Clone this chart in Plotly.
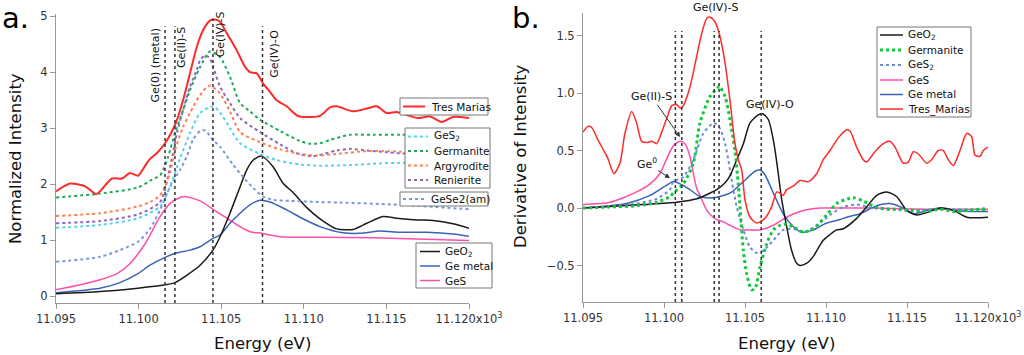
import plotly.graph_objects as go

# ---------------- Panel a data (energy in eV, normalized intensity) ----------------
E0 = 11095.0
tres_a_off = [0, 0.85, 1.76, 2.42, 2.66, 3.39, 4.0, 4.48, 4.96, 5.27, 5.69, 6.10, 6.60, 7.00, 7.31, 7.69, 8.11, 8.52, 8.90, 9.32, 9.62, 9.93, 10.23, 10.53, 10.94, 11.44, 11.74, 12.15, 12.53, 12.95, 13.36, 13.96, 14.57, 14.95, 15.98, 16.59, 16.99, 17.98, 18.81, 19.42, 20.02, 20.62, 21.3, 21.91, 22.64, 23.35, 24.03, 25.0]
tres_a = [1.87, 2.01, 1.96, 1.82, 1.87, 2.10, 2.10, 2.20, 2.15, 2.27, 2.45, 2.55, 2.73, 2.93, 3.14, 3.50, 3.98, 4.45, 4.75, 4.92, 4.94, 4.90, 4.75, 4.60, 4.39, 4.10, 4.00, 3.98, 3.80, 3.65, 3.50, 3.39, 3.23, 3.20, 3.22, 3.37, 3.39, 3.30, 3.35, 3.39, 3.27, 3.29, 3.23, 3.18, 3.21, 3.11, 3.20, 3.18]

germ_a_off = [0, 2.66, 4.96, 5.69, 6.30, 6.48, 6.78, 7.20, 7.69, 8.11, 8.72, 9.32, 9.93, 10.53, 11.14, 11.74, 12.35, 13.56, 14.77, 15.38, 15.98, 16.59, 17.80, 19.19, 20.82, 22.5, 25.0]
germ_a = [1.76, 1.83, 1.94, 2.06, 2.16, 2.25, 2.48, 2.91, 3.32, 3.68, 4.09, 4.37, 4.27, 3.92, 3.45, 3.30, 3.15, 2.95, 2.77, 2.72, 2.73, 2.79, 2.88, 2.88, 2.88, 2.88, 2.88]

argy_off = [0, 2.66, 4.96, 5.69, 6.30, 6.9, 7.20, 7.69, 8.11, 8.72, 9.3, 9.93, 10.53, 11.14, 12.35, 13.56, 14.77, 15.78, 16.99, 18.81, 19.79, 20.82, 25.0]
argy = [1.43, 1.48, 1.60, 1.68, 1.80, 2.2, 2.6, 3.02, 3.27, 3.59, 3.76, 3.62, 3.30, 2.93, 2.75, 2.62, 2.54, 2.51, 2.54, 2.59, 2.59, 2.58, 2.58]

renie_off = [0, 2.66, 4.96, 6.30, 6.9, 7.31, 7.69, 8.11, 8.52, 8.72, 9.02, 9.3, 9.93, 10.53, 11.14, 12.35, 13.56, 14.57, 15.56, 16.99, 17.80, 18.81, 20.02, 20.82, 25.0]
renie = [1.30, 1.34, 1.46, 1.68, 2.3, 2.90, 3.32, 3.74, 4.04, 4.21, 4.30, 4.25, 3.74, 3.45, 3.18, 2.93, 2.71, 2.55, 2.50, 2.60, 2.63, 2.60, 2.57, 2.55, 2.55]

ges2_a_off = [0, 2.66, 4.96, 6.30, 6.9, 7.5, 8.11, 8.72, 9.5, 9.93, 10.53, 11.14, 12.35, 13.36, 14.77, 15.98, 17.80, 19.61, 20.82, 25.0]
ges2_a = [1.22, 1.27, 1.39, 1.60, 1.95, 2.45, 2.91, 3.27, 3.39, 3.28, 3.00, 2.73, 2.54, 2.43, 2.35, 2.33, 2.34, 2.37, 2.38, 2.38]

gese2_off = [0, 2.66, 3.87, 4.96, 5.69, 6.30, 6.90, 7.5, 7.91, 8.29, 8.72, 9.02, 9.50, 9.93, 10.71, 11.32, 11.94, 12.53, 13.14, 14.16, 15.98, 17.19, 20.82, 25.0]
gese2 = [0.61, 0.70, 0.82, 0.97, 1.20, 1.54, 1.95, 2.25, 2.49, 2.79, 2.95, 2.96, 2.79, 2.67, 2.35, 2.13, 1.93, 1.78, 1.72, 1.70, 1.68, 1.67, 1.63, 1.55]

geo2_a_off = [0, 2.66, 4.96, 6.60, 7.20, 7.91, 8.72, 9.50, 9.93, 10.53, 11.14, 11.54, 11.94, 12.45, 13.14, 13.76, 14.35, 15.18, 15.98, 16.99, 17.98, 18.81, 19.79, 20.62, 21.83, 22.82, 24.03, 25.0]
geo2_a = [0.04, 0.08, 0.14, 0.20, 0.24, 0.37, 0.55, 0.82, 1.06, 1.48, 1.95, 2.25, 2.43, 2.50, 2.31, 2.01, 1.85, 1.58, 1.38, 1.20, 1.19, 1.30, 1.42, 1.39, 1.36, 1.35, 1.29, 1.21]

gem_a_off = [0, 2.66, 3.87, 4.96, 5.69, 6.60, 7.20, 8.11, 8.72, 9.50, 9.93, 10.53, 11.14, 11.74, 12.35, 12.95, 13.96, 14.95, 15.98, 17.37, 18.40, 19.61, 20.82, 22.44, 24.03, 25.0]
gem_a = [0.06, 0.14, 0.24, 0.40, 0.55, 0.69, 0.76, 0.82, 0.88, 1.03, 1.09, 1.30, 1.48, 1.63, 1.71, 1.68, 1.54, 1.38, 1.24, 1.13, 1.12, 1.16, 1.14, 1.14, 1.11, 1.07]

ges_a_off = [0, 1.45, 2.66, 3.69, 4.48, 5.27, 5.69, 6.30, 6.90, 7.51, 7.81, 8.72, 9.50, 10.35, 11.14, 11.74, 12.45, 13.56, 15.98, 19.19, 25.0]
ges_a = [0.11, 0.20, 0.29, 0.40, 0.58, 0.88, 1.09, 1.42, 1.65, 1.76, 1.78, 1.70, 1.55, 1.39, 1.24, 1.15, 1.12, 1.06, 1.05, 1.04, 0.99]

# reference energies (eV) for dotted markers
ref_a = [11101.6, 11102.2, 11104.5, 11107.5]
ref_a_labels = ["Ge(0) (metal)", "Ge(II)-S", "Ge(IV)-S", "Ge(IV)-O"]
ref_a_label_x = [11101.0, 11102.6, 11104.93, 11108.26]
ref_a_label_y = [4.12, 4.44, 4.68, 4.33]

# ---------------- Panel b data (derivative) ----------------
tres_b_off = [0, 0.31, 0.54, 0.93, 1.36, 1.54, 1.91, 2.28, 2.59, 3.01, 3.31, 3.62, 3.93, 4.24, 4.55, 4.86, 5.17, 5.48, 5.78, 5.99, 6.19, 6.60, 7.02, 7.33, 7.64, 7.84, 8.15, 8.46, 8.77, 9.07, 9.38, 9.59, 9.80, 10.0, 10.31, 10.72, 11.23, 11.64, 11.96, 12.16, 12.36, 12.57, 12.98, 13.40, 13.91, 14.43, 14.83, 15.25, 15.76, 16.28, 16.48, 16.89, 17.30, 17.51, 18.02, 18.54, 18.95, 19.26, 19.77, 20.08, 20.39, 20.70, 21.22, 21.52, 21.93, 22.24, 22.55, 22.86, 23.27, 23.69, 23.99, 24.20, 24.51, 24.71, 25.0]
tres_b = [0.66, 0.71, 0.70, 0.59, 0.48, 0.43, 0.30, 0.39, 0.65, 0.84, 0.74, 0.58, 0.57, 0.58, 0.56, 0.66, 0.78, 0.89, 0.90, 0.87, 0.89, 1.05, 1.32, 1.52, 1.65, 1.66, 1.62, 1.49, 1.26, 0.94, 0.56, 0.42, 0.33, 0.07, -0.08, -0.13, -0.09, 0.01, 0.14, 0.13, 0.11, 0.16, 0.19, 0.24, 0.23, 0.30, 0.42, 0.50, 0.61, 0.68, 0.67, 0.53, 0.42, 0.40, 0.49, 0.56, 0.58, 0.53, 0.39, 0.40, 0.49, 0.47, 0.39, 0.42, 0.50, 0.50, 0.42, 0.37, 0.50, 0.65, 0.62, 0.46, 0.45, 0.50, 0.53]

germ_b_off = [0, 1.67, 3.31, 4.55, 5.37, 5.57, 6.19, 6.81, 7.22, 7.84, 8.35, 8.41, 8.77, 9.07, 9.38, 9.59, 9.90, 10.10, 10.41, 10.62, 10.93, 11.34, 11.75, 12.16, 12.57, 13.19, 13.60, 14.22, 15.04, 15.66, 16.69, 17.30, 18.02, 18.75, 19.57, 20.39, 21.22, 22.04, 22.86, 23.89, 25.0]
germ_b = [0.00, 0.01, 0.02, 0.05, 0.10, 0.13, 0.21, 0.39, 0.74, 0.97, 1.05, 1.06, 0.97, 0.77, 0.50, 0.20, -0.37, -0.57, -0.71, -0.70, -0.51, -0.31, -0.19, -0.15, -0.14, -0.18, -0.21, -0.18, -0.06, 0.04, 0.09, 0.06, 0.01, -0.01, -0.01, -0.02, -0.03, -0.01, -0.03, -0.02, -0.01]

ges2_b_off = [0, 2.90, 4.55, 5.37, 5.57, 6.19, 6.81, 7.02, 7.43, 8.09, 8.46, 8.77, 8.97, 9.07, 9.49, 9.90, 10.31, 10.72, 11.13, 11.75, 12.36, 12.98, 13.60, 14.43, 15.25, 16.07, 16.89, 17.92, 19.15, 20.39, 21.62, 22.86, 24.09, 25.0]
ges2_b = [0.00, 0.03, 0.08, 0.16, 0.23, 0.27, 0.42, 0.50, 0.65, 0.74, 0.69, 0.56, 0.42, 0.33, 0.01, -0.19, -0.34, -0.39, -0.37, -0.28, -0.19, -0.18, -0.21, -0.15, -0.06, 0.01, 0.03, 0.00, -0.01, -0.03, -0.01, -0.01, -0.01, 0.00]

ges_b_off = [0, 1.67, 3.31, 4.14, 4.75, 5.17, 5.57, 5.99, 6.30, 6.60, 6.81, 7.02, 7.22, 7.64, 8.04, 8.25, 8.66, 9.07, 9.69, 10.31, 10.93, 11.75, 12.57, 13.40, 14.63, 15.86, 18.0, 21.0, 25.0]
ges_b = [0.03, 0.05, 0.14, 0.21, 0.30, 0.43, 0.54, 0.58, 0.56, 0.45, 0.30, 0.17, 0.11, -0.02, -0.08, -0.10, -0.12, -0.15, -0.19, -0.19, -0.19, -0.15, -0.08, -0.03, 0.00, 0.00, 0.00, -0.01, -0.01]

gem_b_off = [0, 2.70, 4.14, 5.17, 5.57, 5.99, 6.60, 7.22, 8.04, 9.07, 9.90, 10.62, 10.93, 11.23, 11.75, 12.36, 12.98, 13.50, 14.22, 15.04, 15.86, 16.28, 17.10, 18.13, 18.95, 19.77, 20.39, 21.22, 22.04, 22.86, 23.89, 25.0]
gem_b = [0.00, 0.04, 0.11, 0.20, 0.23, 0.21, 0.16, 0.10, 0.09, 0.13, 0.23, 0.32, 0.33, 0.29, 0.13, -0.05, -0.16, -0.21, -0.19, -0.13, -0.10, -0.08, -0.05, 0.02, 0.04, 0.00, -0.05, -0.02, 0.00, -0.02, -0.03, -0.03]

geo2_b_off = [0, 3.72, 5.78, 7.02, 8.25, 8.77, 9.07, 9.49, 9.90, 10.31, 10.82, 11.09, 11.44, 11.75, 11.96, 12.27, 12.57, 12.88, 13.19, 13.40, 13.81, 14.22, 14.43, 14.83, 15.25, 15.66, 16.07, 16.89, 17.51, 18.13, 18.75, 19.36, 19.98, 20.60, 21.22, 22.04, 22.86, 23.69, 25.0]
geo2_b = [0.00, 0.03, 0.05, 0.08, 0.16, 0.22, 0.28, 0.42, 0.56, 0.74, 0.81, 0.82, 0.77, 0.59, 0.40, 0.07, -0.16, -0.37, -0.48, -0.50, -0.48, -0.42, -0.37, -0.28, -0.23, -0.19, -0.18, -0.09, 0.01, 0.11, 0.14, 0.10, -0.02, -0.06, -0.04, 0.00, -0.02, -0.08, -0.08]

ref_b = [11100.7, 11101.1, 11103.1, 11103.4, 11106.0]

tickvals = [11095, 11100, 11105, 11110, 11115, 11120]
ticktext = ["11.095", "11.100", "11.105", "11.110", "11.115", "11.120x10<sup>3</sup>"]

# legend groups (names in display order)
legend_a1 = ["Tres Marias"]
legend_a2 = ["GeS<sub>2</sub> ", "Germanite ", "Argyrodite", "Renierite"]
legend_a3 = ["GeSe2(am)"]
legend_a4 = ["GeO<sub>2</sub> ", "Ge metal ", "GeS "]
legend_b = ["GeO<sub>2</sub>", "Germanite", "GeS<sub>2</sub>", "GeS", "Ge metal", "Tres_Marias"]

FONT = "DejaVu Sans"
RED = "#ff2b2b"

# styles keyed by series name: (color, width, dash)
style = {
    "Tres Marias": (RED, 2, "solid"),
    "GeS<sub>2</sub> ": ("#55d2ea", 2, "dot"),
    "Germanite ": ("#1fa85a", 2, "dot"),
    "Argyrodite": ("#ff7f50", 2, "dot"),
    "Renierite": ("#8e63c4", 2, "dot"),
    "GeSe2(am)": ("#7b98da", 2, "dot"),
    "GeO<sub>2</sub> ": ("#1a1a1a", 1.5, "solid"),
    "Ge metal ": ("#3a62b8", 1.5, "solid"),
    "GeS ": ("#ff4fa8", 1.5, "solid"),
    "GeO<sub>2</sub>": ("#1a1a1a", 1.5, "solid"),
    "Germanite": ("#10c83c", 3, "dot"),
    "GeS<sub>2</sub>": ("#6a8ed6", 2, "dot"),
    "GeS": ("#ff4fa8", 1.5, "solid"),
    "Ge metal": ("#3a62b8", 1.5, "solid"),
    "Tres_Marias": (RED, 1.5, "solid"),
}


def ev(offs):
    return [E0 + o for o in offs]


fig = go.Figure()


def add(xo, y, name, xa, ya):
    c, w, d = style[name]
    fig.add_trace(go.Scatter(
        x=ev(xo), y=y, name=name, mode="lines", showlegend=False,
        line=dict(color=c, width=w, dash=d, shape="spline", smoothing=0.7),
        xaxis=xa, yaxis=ya))


# Panel a
add(ges_a_off, ges_a, "GeS ", "x", "y")
add(gem_a_off, gem_a, "Ge metal ", "x", "y")
add(geo2_a_off, geo2_a, "GeO<sub>2</sub> ", "x", "y")
add(gese2_off, gese2, "GeSe2(am)", "x", "y")
add(renie_off, renie, "Renierite", "x", "y")
add(argy_off, argy, "Argyrodite", "x", "y")
add(germ_a_off, germ_a, "Germanite ", "x", "y")
add(ges2_a_off, ges2_a, "GeS<sub>2</sub> ", "x", "y")
add(tres_a_off, tres_a, "Tres Marias", "x", "y")

# Panel b
add(ges_b_off, ges_b, "GeS", "x2", "y2")
add(gem_b_off, gem_b, "Ge metal", "x2", "y2")
add(ges2_b_off, ges2_b, "GeS<sub>2</sub>", "x2", "y2")
add(geo2_b_off, geo2_b, "GeO<sub>2</sub>", "x2", "y2")
add(germ_b_off, germ_b, "Germanite", "x2", "y2")
add(tres_b_off, tres_b, "Tres_Marias", "x2", "y2")

W, H = 1024.0, 355.0
shapes = []
tops_a = [4.82, 4.82, 4.96, 4.82]
for xv, t in zip(ref_a, tops_a):
    shapes.append(dict(type="line", xref="x", yref="y", x0=xv, x1=xv, y0=-0.125, y1=t,
                       line=dict(color="#333", width=1.5, dash="dot")))
for xv in ref_b:
    shapes.append(dict(type="line", xref="x2", yref="y2", x0=xv, x1=xv, y0=-0.817, y1=1.54,
                       line=dict(color="#333", width=1.5, dash="dot")))

TXT = dict(family=FONT, color="#111")
annotations = []
for txt, xv, yv in zip(ref_a_labels, ref_a_label_x, ref_a_label_y):
    annotations.append(dict(text=txt, x=xv, y=yv, xref="x", yref="y", showarrow=False,
                            textangle=-90, font=dict(size=11, **TXT),
                            xanchor="center", yanchor="middle"))
annotations += [
    dict(text="Ge(IV)-S", x=11103.24, y=1 - 8 / H, xref="x2", yref="paper", showarrow=False,
         xanchor="center", yanchor="middle", font=dict(size=11, **TXT)),
    dict(text="Ge(IV)-O", x=11106.54, y=0.896, xref="x2", yref="y2", showarrow=False,
         xanchor="center", yanchor="middle", font=dict(size=11, **TXT)),
    dict(text="Ge(II)-S", x=11100.99, y=0.617, ax=11099.24, ay=0.968, xref="x2", yref="y2",
         axref="x2", ayref="y2", showarrow=True, arrowhead=2, arrowsize=1, arrowwidth=1,
         arrowcolor="#333", font=dict(size=11, **TXT)),
    dict(text="Ge<sup>0</sup>", x=11100.37, y=0.26, ax=11098.93, ay=0.39, xref="x2", yref="y2",
         axref="x2", ayref="y2", showarrow=True, arrowhead=2, arrowsize=1, arrowwidth=1,
         arrowcolor="#333", font=dict(size=11, **TXT)),
    dict(text="a.", x=0.0, y=1 - 18 / H, xref="paper", yref="paper", xanchor="left", yanchor="middle",
         showarrow=False, font=dict(size=29, family=FONT, color="#000")),
    dict(text="b.", x=510 / W, y=1 - 18 / H, xref="paper", yref="paper", xanchor="left", yanchor="middle",
         showarrow=False, font=dict(size=29, family=FONT, color="#000")),
    # axis titles
    dict(text="Normalized Intensity", x=15 / W, y=1 - 159 / H, xref="paper", yref="paper",
         xanchor="center", yanchor="middle",
         textangle=-90, showarrow=False, font=dict(size=16.5, **TXT)),
    dict(text="Derivative of Intensity", x=520 / W, y=1 - 156 / H, xref="paper", yref="paper",
         xanchor="center", yanchor="middle",
         textangle=-90, showarrow=False, font=dict(size=16.5, **TXT)),
    dict(text="Energy (eV)", x=262 / W, y=1 - 343 / H, xref="paper", yref="paper",
         xanchor="center", yanchor="middle", showarrow=False, font=dict(size=16.5, **TXT)),
    dict(text="Energy (eV)", x=786 / W, y=1 - 343 / H, xref="paper", yref="paper",
         xanchor="center", yanchor="middle", showarrow=False, font=dict(size=16.5, **TXT)),
]

# hand-drawn legend boxes (pixel layout): box, sample x-range, text x, row centres
legend_layout = [
    (legend_a1, (400, 98, 488, 115), (403, 425), 429, [106.5]),
    (legend_a2, (405, 128, 490, 188), (408, 428), 432, [136.5, 151.0, 165.5, 180.0]),
    (legend_a3, (400, 192, 488, 206), (403, 425), 429, [199.0]),
    (legend_a4, (416, 243, 492, 288), (420, 440), 443, [251.5, 266.0, 280.5]),
    (legend_b, (877, 27, 971, 117), (880, 903), 906, [35, 50, 65, 80, 94.5, 109]),
]
for names, (bx0, by0, bx1, by1), (sx0, sx1), tx, rows in legend_layout:
    shapes.append(dict(type="rect", xref="paper", yref="paper", x0=bx0 / W, x1=bx1 / W,
                       y0=1 - by0 / H, y1=1 - by1 / H, fillcolor="white",
                       line=dict(color="#777", width=1), layer="above"))
    for nm, ry in zip(names, rows):
        c, w, d = style[nm]
        shapes.append(dict(type="line", xref="paper", yref="paper", x0=sx0 / W, x1=sx1 / W,
                           y0=1 - ry / H, y1=1 - ry / H, line=dict(color=c, width=w, dash=d),
                           layer="above"))
        annotations.append(dict(text=nm.strip(), x=tx / W, y=1 - ry / H, xref="paper", yref="paper",
                                xanchor="left", yanchor="middle", showarrow=False,
                                font=dict(size=10.5, **TXT)))

axis_common = dict(showline=True, linecolor="#999", linewidth=1, ticks="outside", ticklen=5,
                   tickcolor="#999", showgrid=False, zeroline=False, automargin=False,
                   tickfont=dict(size=11.5, family=FONT, color="#333"))

fig.update_layout(
    width=1024, height=355, margin=dict(l=0, r=0, t=0, b=0, autoexpand=False),
    paper_bgcolor="white", plot_bgcolor="white", showlegend=False,
    font=dict(family=FONT),
    xaxis=dict(domain=[56 / W, 469 / W], range=[11095, 11120], tickvals=tickvals,
               ticktext=ticktext, anchor="y", **axis_common),
    yaxis=dict(domain=[1 - 303 / H, 1 - 14 / H], range=[-0.125, 5.04], tickvals=[0, 1, 2, 3, 4, 5],
               anchor="x", **axis_common),
    xaxis2=dict(domain=[583 / W, 988 / W], range=[11095, 11120], tickvals=tickvals,
                ticktext=ticktext, anchor="y2", **axis_common),
    yaxis2=dict(domain=[1 - 302 / H, 1 - 13 / H], range=[-0.817, 1.696],
                tickvals=[-0.5, 0.0, 0.5, 1.0, 1.5], tickformat=".1f", anchor="x2", **axis_common),
    shapes=shapes, annotations=annotations,
)

fig.write_html("out.html", config={"displayModeBar": False},
               post_script="document.body.style.margin='0';document.body.style.overflow='hidden';")
